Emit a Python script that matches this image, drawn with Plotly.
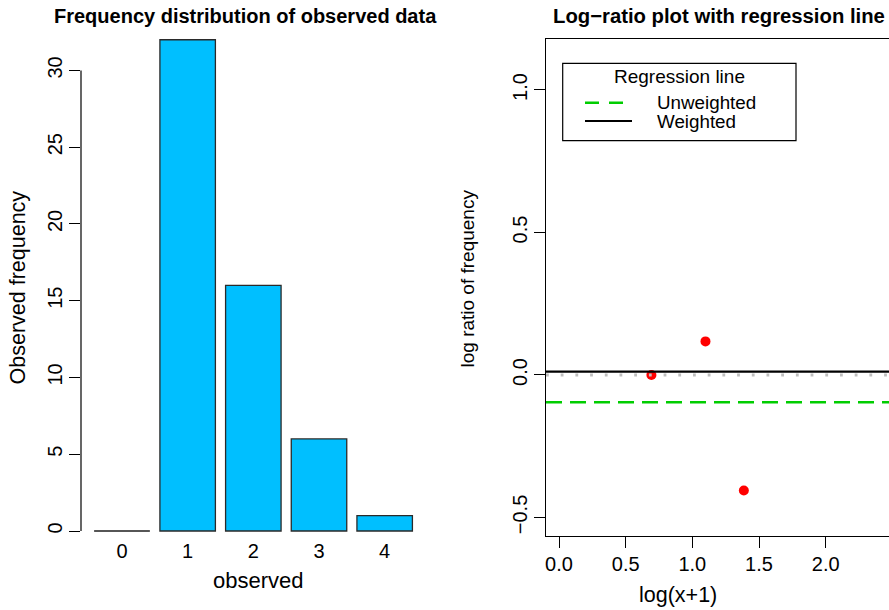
import numpy as np
import plotly.graph_objects as go

# ---- data -------------------------------------------------------------
observed = [0, 1, 2, 3, 4]
frequency = [0, 32, 16, 6, 1]

# log-ratio points: x = log(k+1), y = log((k+1) f(k+1) / f(k))
log_x = [0.6931, 1.0986, 1.3863]
log_ratio = [0.0, 0.1178, -0.4055]

unweighted_level = -0.0959
weighted_level = 0.0116

left_yticks = [0, 5, 10, 15, 20, 25, 30]
right_xticks = [0.0, 0.5, 1.0, 1.5, 2.0]
right_yticks = [-0.5, 0.0, 0.5, 1.0]

# ---- layout helpers ----------------------------------------------------
W, H = 889, 610
FONT = "Liberation Sans, Arial, Helvetica, sans-serif"


def px(x):
    return x / W


def py(y):
    return 1 - y / H


top_px, bottom_px = 39, 535.7
ydom = [py(bottom_px), py(top_px)]

fig = go.Figure()

# left panel: bar chart of observed frequencies
fig.add_trace(go.Bar(
    x=observed, y=frequency, width=0.845,
    marker=dict(color="#00BFFF", line=dict(color="#2a2a2a", width=1.3)),
    xaxis="x", yaxis="y", showlegend=False, hoverinfo="x+y",
))

# right panel: log-ratio points
fig.add_trace(go.Scatter(
    x=log_x, y=log_ratio, mode="markers",
    marker=dict(color="#FF0000", size=10),
    xaxis="x2", yaxis="y2", showlegend=False,
))

shapes = []
# zero-height bars drawn as a flat stroke at the baseline
for xv, fv in zip(observed, frequency):
    if fv == 0:
        shapes.append(dict(type="line", xref="x", yref="y",
                           x0=xv - 0.4225, x1=xv + 0.4225, y0=0, y1=0,
                           line=dict(color="#555555", width=1.5)))

# left y axis line spans only the labelled ticks
shapes.append(dict(type="line", xref="x domain", yref="y",
                   x0=0, x1=0, y0=left_yticks[0], y1=left_yticks[-1],
                   line=dict(color="black", width=1.2)))

# reference and regression lines on the right panel
shapes.append(dict(type="line", xref="x2 domain", yref="y2", x0=0, x1=1,
                   y0=0, y1=0,
                   line=dict(color="#BEBEBE", width=2.8, dash="2.8px,11.9px")))
shapes.append(dict(type="line", xref="x2 domain", yref="y2", x0=0, x1=1,
                   y0=unweighted_level, y1=unweighted_level,
                   line=dict(color="#00CD00", width=2.6, dash="16px,8px")))
shapes.append(dict(type="line", xref="x2 domain", yref="y2", x0=0, x1=1,
                   y0=weighted_level, y1=weighted_level,
                   line=dict(color="black", width=2.2)))

# legend box for the regression lines
shapes.append(dict(type="rect", xref="paper", yref="paper",
                   x0=px(562.7), x1=px(796), y0=py(140.7), y1=py(63.3),
                   line=dict(color="black", width=1.2), fillcolor="white",
                   layer="above"))
shapes.append(dict(type="line", xref="paper", yref="paper",
                   x0=px(585), x1=px(630), y0=py(102.7), y1=py(102.7),
                   line=dict(color="#00CD00", width=2.6, dash="14px,10px")))
shapes.append(dict(type="line", xref="paper", yref="paper",
                   x0=px(585), x1=px(632), y0=py(121), y1=py(121),
                   line=dict(color="black", width=2.2)))

annotations = [
    dict(text="<b>Frequency distribution of observed data</b>",
         x=px(245.5), y=py(15.5), font=dict(size=20)),
    dict(text="<b>Log\u2212ratio plot with regression line</b>",
         x=px(719), y=py(15.5), font=dict(size=20.3)),
    dict(text="observed", x=px(258), y=py(580), font=dict(size=22)),
    dict(text="Observed frequency", x=px(17.5), y=py(288), textangle=-90,
         font=dict(size=21.5)),
    dict(text="log(x+1)", x=px(677.5), y=py(595), font=dict(size=21.5)),
    dict(text="log ratio of frequency", x=px(466.5), y=py(279), textangle=-90,
         font=dict(size=19)),
    dict(text="Regression line", x=px(679.3), y=py(76.7), font=dict(size=19)),
    dict(text="Unweighted", x=px(655), y=py(102.2), xanchor="left",
         font=dict(size=18.8)),
    dict(text="Weighted", x=px(655), y=py(121.3), xanchor="left",
         font=dict(size=18.8)),
]
for a in annotations:
    a.setdefault("xref", "paper")
    a.setdefault("yref", "paper")
    a.setdefault("showarrow", False)
    a.setdefault("xanchor", "center")
    a.setdefault("yanchor", "middle")
    a["font"].setdefault("color", "black")
    a["font"].setdefault("family", FONT)

tickfont = dict(family=FONT, size=20, color="black")

fig.update_layout(
    width=W, height=H,
    margin=dict(l=0, r=0, t=0, b=0),
    paper_bgcolor="white", plot_bgcolor="white",
    font=dict(family=FONT, color="black"),
    shapes=shapes, annotations=annotations,
    xaxis=dict(domain=[px(81), px(425)], range=[-0.624, 4.614],
               tickmode="array", tickvals=observed,
               ticktext=[str(v) for v in observed],
               ticks="", showline=False, showgrid=False, zeroline=False,
               tickfont=tickfont, ticklabelstandoff=1),
    yaxis=dict(domain=ydom, range=[-0.306, 32.05],
               tickmode="array", tickvals=left_yticks,
               ticktext=[str(v) for v in left_yticks],
               ticks="outside", ticklen=11, tickwidth=1.2, tickcolor="black",
               tickangle=-90, showline=False, showgrid=False, zeroline=False,
               tickfont=tickfont, anchor="x", ticklabelstandoff=-1),
    xaxis2=dict(domain=[px(546), 1.0], range=[-0.0975, 2.475],
                tickmode="array", tickvals=right_xticks,
                ticktext=["%.1f" % v for v in right_xticks],
                ticks="outside", ticklen=11, tickwidth=1.2, tickcolor="black",
                showline=True, mirror=True, linecolor="black", linewidth=1.2,
                showgrid=False, zeroline=False, tickfont=tickfont,
                anchor="y2", ticklabelstandoff=-1),
    yaxis2=dict(domain=ydom, range=[-0.5639, 1.1789],
                tickmode="array", tickvals=right_yticks,
                ticktext=[("%.1f" % v).replace("-", "\u2212")
                          for v in right_yticks],
                ticks="outside", ticklen=11, tickwidth=1.2, tickcolor="black",
                tickangle=-90, showline=True, linecolor="black", linewidth=1.2,
                showgrid=False, zeroline=False, tickfont=tickfont,
                anchor="x2", ticklabelstandoff=-1),
)

fig.write_html("out.html")
